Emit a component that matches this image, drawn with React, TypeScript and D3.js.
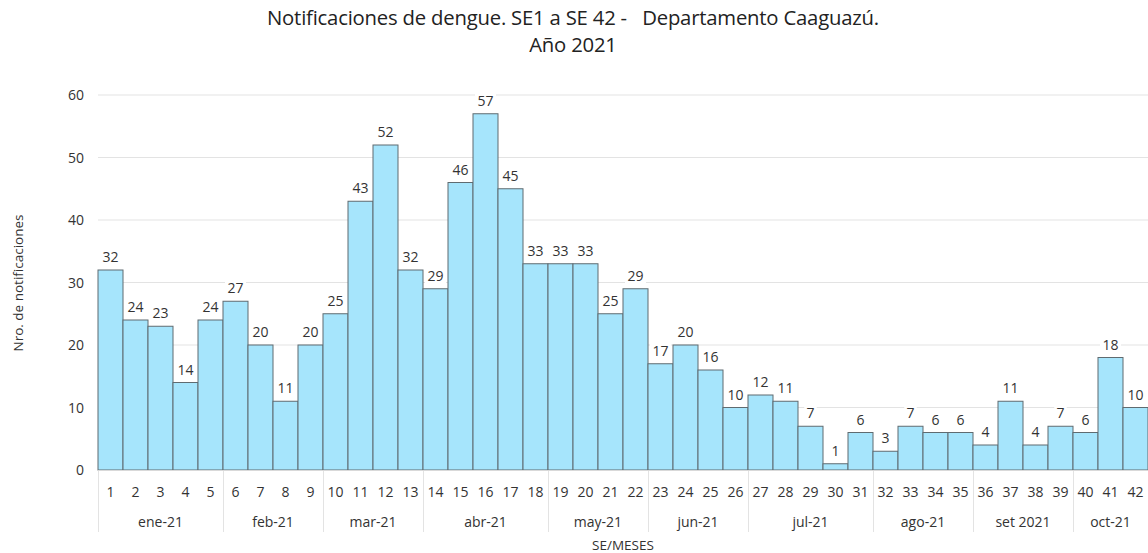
import React from "react";
import * as d3 from "d3";

const weeks = Array.from({ length: 42 }, (_, i) => String(i + 1));
const values = [32, 24, 23, 14, 24, 27, 20, 11, 20, 25, 43, 52, 32, 29, 46, 57, 45, 33, 33, 33, 25, 29, 17, 20, 16, 10, 12, 11, 7, 1, 6, 3, 7, 6, 6, 4, 11, 4, 7, 6, 18, 10];
const months = ["ene-21", "feb-21", "mar-21", "abr-21", "may-21", "jun-21", "jul-21", "ago-21", "set 2021", "oct-21"];
const monthWeekCounts = [5, 4, 4, 5, 4, 4, 5, 4, 4, 3];
const yTicks = [0, 10, 20, 30, 40, 50, 60];

const W = 1148, H = 553;
const FONT = "'Open Sans', 'Noto Sans', sans-serif";

export default function App() {
  const x = d3.scaleBand().domain(weeks).range([98, 1148]).padding(0);
  const y = d3.scaleLinear().domain([0, 60]).range([470, 95]);
  const bw = x.bandwidth();

  let acc = 0;
  const monthSpans = months.map((m, i) => {
    const start = acc;
    acc += monthWeekCounts[i];
    return { m, x0: x(weeks[start])!, x1: x(weeks[acc - 1])! + bw };
  });

  return (
    <svg width={W} height={H} style={{ display: "block", position: "absolute", left: 0, top: 0 }} fontFamily={FONT}>
      <rect width={W} height={H} fill="#fff" />
      <text x={573} y={25} textAnchor="middle" fontSize={20.3} fill="#222" letterSpacing={-0.2}>
        Notificaciones de dengue. SE1 a SE 42 -{"\u00a0\u00a0\u00a0"}Departamento Caaguazú.
      </text>
      <text x={573} y={52} textAnchor="middle" fontSize={20.3} fill="#222" letterSpacing={-0.2}>Año 2021</text>

      {yTicks.map((t) => (
        <g key={t}>
          {t > 0 && <line x1={98} x2={1148} y1={y(t)} y2={y(t)} stroke="#e3e3e3" strokeWidth={1} />}
          <text x={84} y={y(t) + 5} textAnchor="end" fontSize={14} fill="#333">{t}</text>
        </g>
      ))}
      <text transform={`translate(23,${283}) rotate(-90)`} textAnchor="middle" fontSize={13.5} fill="#333">
        Nro. de notificaciones
      </text>

      {values.map((v, i) => (
        <rect key={i} x={x(weeks[i])!} y={y(v)} width={bw} height={y(0) - y(v)} fill="#a6e5fc" stroke="#5f6b70" strokeWidth={1} />
      ))}
      <line x1={98} x2={1148} y1={470.5} y2={470.5} stroke="#d9d9d9" />

      {values.map((v, i) => {
        const cx = x(weeks[i])! + bw / 2;
        const ty = y(v) - 8;
        const label = String(v);
        const tw = label.length * 8.5 + 4;
        return (
          <g key={"l" + i}>
            <rect x={cx - tw / 2} y={ty - 14} width={tw} height={18} fill="#fff" />
            <text x={cx} y={ty} textAnchor="middle" fontSize={14} fill="#333">{label}</text>
          </g>
        );
      })}

      {weeks.map((w) => (
        <text key={"w" + w} x={x(w)! + bw / 2} y={497} textAnchor="middle" fontSize={14} fill="#333">{w}</text>
      ))}

      {monthSpans.map((s, i) => (
        <g key={"m" + i}>
          <line x1={s.x0 + 0.5} x2={s.x0 + 0.5} y1={471} y2={532} stroke="#e3e3e3" />
          <text x={(s.x0 + s.x1) / 2} y={527} textAnchor="middle" fontSize={14} fill="#333">{s.m}</text>
        </g>
      ))}
      <text x={623} y={550} textAnchor="middle" fontSize={13.5} fill="#333">SE/MESES</text>
    </svg>
  );
}
